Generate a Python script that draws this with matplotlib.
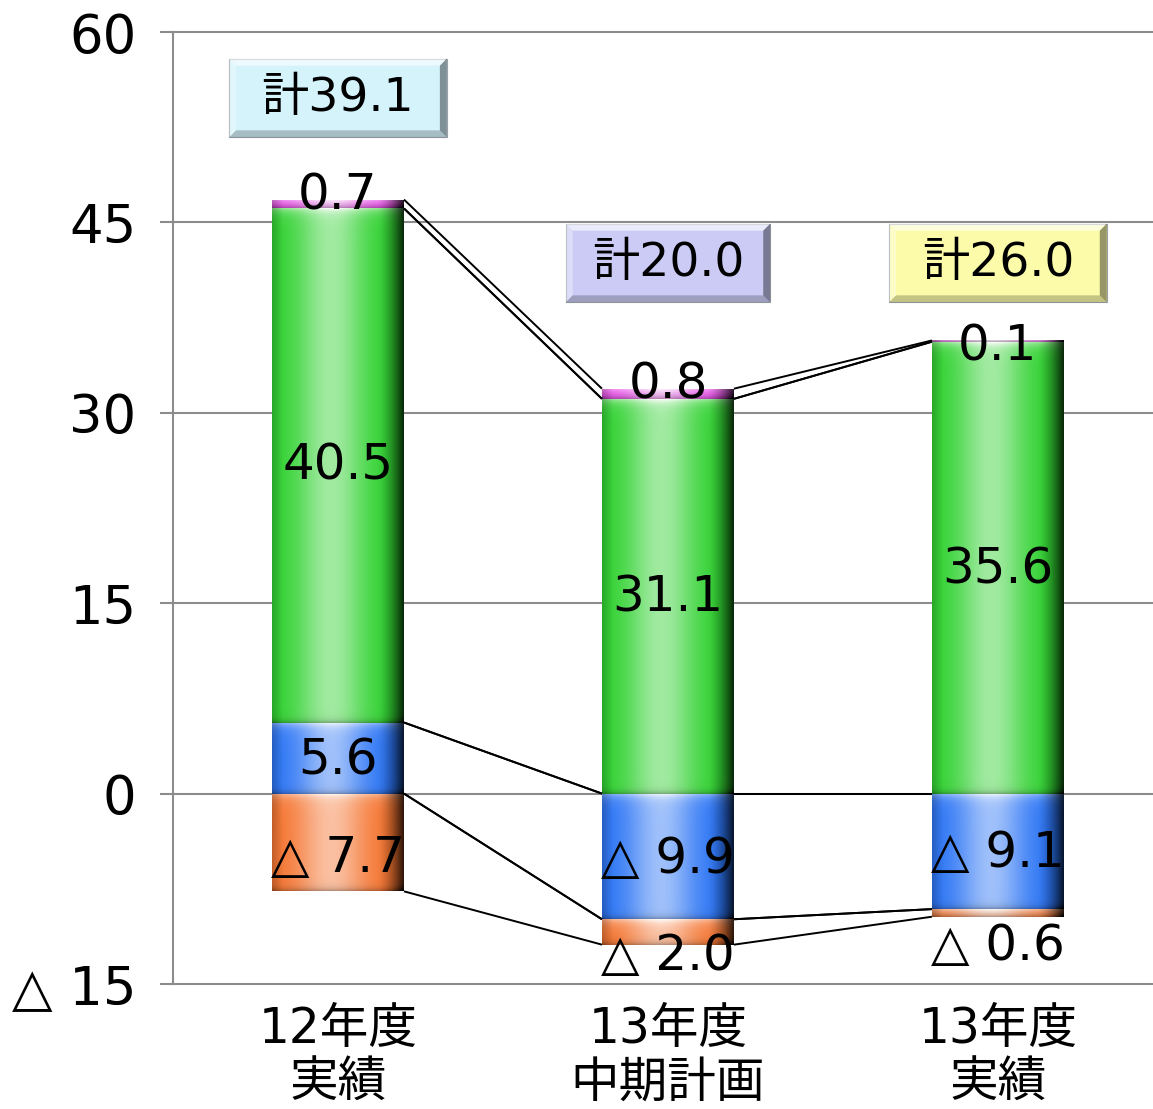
import numpy as np
import matplotlib
matplotlib.use('Agg')
import matplotlib.pyplot as plt
from matplotlib.patches import Rectangle, Polygon

# 数字は DejaVu、漢字は Noto CJK にフォールバック
plt.rcParams['font.family'] = ['DejaVu Sans', 'Noto Sans CJK JP']

# --- データ ---
categories = ['12年度\n実績', '13年度\n中期計画', '13年度\n実績']
blue_vals = [5.6, -9.9, -9.1]
orange_vals = [-7.7, -2.0, -0.6]
green_vals = [40.5, 31.1, 35.6]
magenta_vals = [0.7, 0.8, 0.1]
y_ticks = [-15, 0, 15, 30, 45, 60]
y_ticklabels = ['△ 15', '0', '15', '30', '45', '60']

# 系列ごとの色と、ラベルの上下オフセット(pt, 正=下)
series = [
    ('blue', blue_vals, (0.16, 0.45, 0.96), [2, 2, 1]),
    ('orange', orange_vals, (0.96, 0.45, 0.18), [11, 17, 24]),
    ('green', green_vals, (0.18, 0.82, 0.18), [0, 1, 1]),
    ('magenta', magenta_vals, (0.93, 0.25, 0.93), [-6, -7, 4]),
]

# 合計ボックス
box_colors = ['#d4f3fb', '#cbcbf5', '#fbfbaa']
box_y = [54.8, 41.8, 41.8]
box_w = [0.66, 0.62, 0.66]
box_h = 6.2

bar_w = 0.4
px_per_unit = 952 / 75


def fmt(v):
    return f'△ {abs(v):.1f}' if v < 0 else f'{v:.1f}'


def shaded(rgb, h_px):
    # 立体風のグラデーション画像を作る
    nx = 80
    ny = max(int(round(h_px)), 2)
    xs = np.linspace(0, 1, nx)
    ys = np.arange(ny) + 0.5
    light = 0.55 * np.exp(-((xs - 0.45) / 0.26) ** 2)
    dark = 0.8 * np.clip((xs - 0.8) / 0.2, 0, 1) ** 1.6 + 0.2 * np.clip((0.08 - xs) / 0.08, 0, 1)
    top = 0.45 * np.exp(-ys / 5.0)
    bot = 0.3 * np.exp(-(ny - ys) / 3.0)
    L = np.clip(light[None, :] + top[:, None], 0, 1)
    D = np.clip(dark[None, :] + bot[:, None], 0, 1)
    base = np.array(rgb)[None, None, :]
    img = base + (1 - base) * L[..., None]
    img = img * (1 - D[..., None])
    return np.clip(img, 0, 1)


fig = plt.figure(figsize=(11.53, 11.09), dpi=100)
ax = fig.add_axes([173 / 1153, 1 - 984 / 1109, 1 - 173 / 1153, 952 / 1109])

x = np.arange(len(categories))
pos = np.zeros(len(x))
neg = np.zeros(len(x))
edges = {}

for name, vals, rgb, offs in series:
    vals = np.array(vals)
    base = np.where(vals >= 0, pos, neg)
    bars = ax.bar(x, vals, bar_w, bottom=base, color='none', edgecolor='none', zorder=2)
    lo = np.minimum(base, base + vals)
    hi = np.maximum(base, base + vals)
    edges[name] = (lo, hi)
    pos += np.where(vals >= 0, vals, 0)
    neg += np.where(vals < 0, vals, 0)

    for i, patch in enumerate(bars.patches):
        x0 = patch.get_x()
        x1 = x0 + patch.get_width()
        img = shaded(rgb, (hi[i] - lo[i]) * px_per_unit)
        im = ax.imshow(img, extent=(x0, x1, lo[i], hi[i]), origin='upper',
                       aspect='auto', interpolation='bilinear', zorder=2)
        im.set_clip_path(patch)
        ax.annotate(fmt(vals[i]), xy=(x[i], (lo[i] + hi[i]) / 2),
                    xytext=(0, -offs[i]), textcoords='offset points',
                    ha='center', va='center', fontsize=36, zorder=6)

# 系列線(各区間の上端・下端を隣の棒と結ぶ)
for name, _, _, _ in series:
    lo, hi = edges[name]
    for i in range(len(x) - 1):
        for ed in (lo, hi):
            ax.plot([x[i] + bar_w / 2, x[i + 1] - bar_w / 2], [ed[i], ed[i + 1]],
                    color='black', lw=1.4, zorder=3, solid_capstyle='butt')

# 合計ボックス
totals = np.sum([s[1] for s in series], axis=0)
bx = 7 / 330
by = 7 / px_per_unit
for i, t in enumerate(totals):
    x0, x1 = x[i] - box_w[i] / 2, x[i] + box_w[i] / 2
    y0, y1 = box_y[i] - box_h / 2, box_y[i] + box_h / 2
    ax.add_patch(Rectangle((x0, y0), x1 - x0, y1 - y0, facecolor=box_colors[i],
                           edgecolor='#9aa0a6', lw=0.8, zorder=4))
    bevels = [
        ([(x0, y1), (x1, y1), (x1 - bx, y1 - by), (x0 + bx, y1 - by)], 'white', 0.6),
        ([(x0, y0), (x0, y1), (x0 + bx, y1 - by), (x0 + bx, y0 + by)], 'white', 0.35),
        ([(x0, y0), (x1, y0), (x1 - bx, y0 + by), (x0 + bx, y0 + by)], 'black', 0.22),
        ([(x1, y0), (x1, y1), (x1 - bx, y1 - by), (x1 - bx, y0 + by)], 'black', 0.4),
    ]
    for pts, c, a in bevels:
        ax.add_patch(Polygon(pts, closed=True, facecolor=c, alpha=a, edgecolor='none', zorder=4))
    ax.text(x[i], box_y[i], f'計{t:.1f}', ha='center', va='center', fontsize=34, zorder=5)

# 目盛線
for yv in y_ticks:
    ax.axhline(yv, color='#8c8c8c', lw=1.5, zorder=1, clip_on=False)

ax.set_xlim(-0.5, 2.47)
ax.set_ylim(-15, 60)
ax.set_yticks(y_ticks, y_ticklabels, fontsize=38)
ax.tick_params(axis='y', length=9.5, width=1.5, color='#8c8c8c', pad=17)
ax.set_xticks(x, categories, fontsize=35, linespacing=1.17)
ax.tick_params(axis='x', length=0, pad=15)

for s in ['top', 'right', 'bottom']:
    ax.spines[s].set_visible(False)
ax.spines['left'].set_color('#8c8c8c')
ax.spines['left'].set_linewidth(1.5)
ax.set_facecolor('none')

fig.savefig('out.png', dpi=100)
